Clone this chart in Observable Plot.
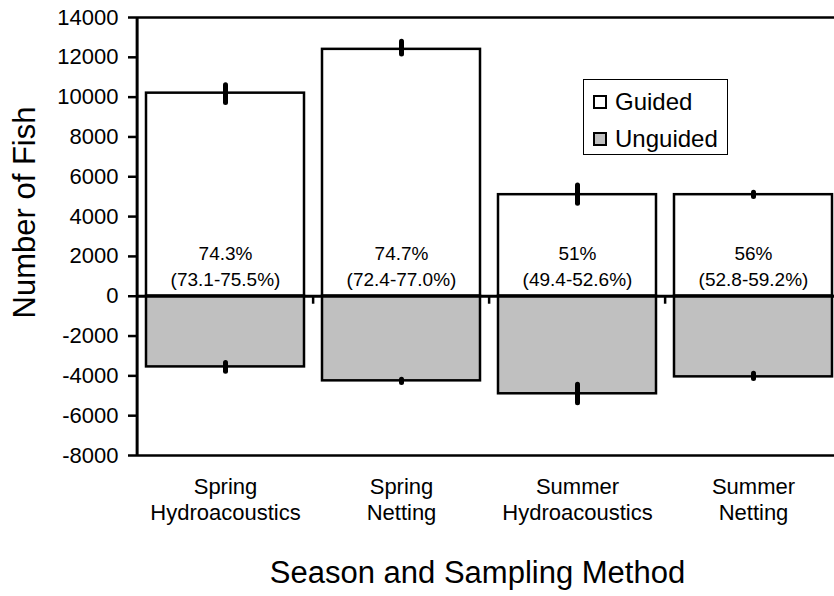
<!DOCTYPE html>
<html>
<head>
<meta charset="utf-8">
<script src="https://cdn.jsdelivr.net/npm/d3@7"></script>
<script src="https://cdn.jsdelivr.net/npm/@observablehq/plot@0.6"></script>
<style>
  body { margin: 0; background: #fff; }
  #wrap { position: relative; width: 834px; height: 596px; overflow: hidden; font-family: "Liberation Sans", Arial, sans-serif; }
  #legend { position: absolute; left: 583px; top: 79px; width: 145px; height: 76px; box-sizing: border-box; border: 1px solid #000; background: #fff; font-size: 24px; }
  .item { position: absolute; left: 9px; height: 30px; display: flex; align-items: center; white-space: nowrap; }
  .sw { width: 14px; height: 14px; border: 2.5px solid #000; box-sizing: border-box; margin-right: 8px; }
</style>
</head>
<body>
<div id="wrap">
  <div id="chart"></div>
  <div id="legend">
    <div class="item" style="top:7px"><div class="sw" style="background:#fff"></div><span>Guided</span></div>
    <div class="item" style="top:44px"><div class="sw" style="background:#c0c0c0"></div><span>Unguided</span></div>
  </div>
</div>
<script>
// ---- data ----
const categories = ["Spring Hydroacoustics", "Spring Netting", "Summer Hydroacoustics", "Summer Netting"];
const guided = [10200, 12400, 5100, 5100];
const unguided = [-3550, -4250, -4900, -4050];
const guidedLow = [9700, 12140, 4640, 4980];
const guidedHigh = [10600, 12780, 5560, 5200];
const unguidedLow = [-3790, -4360, -5370, -4160];
const unguidedHigh = [-3350, -4190, -4450, -3890];
const pctLabels = ["74.3%", "74.7%", "51%", "56%"];
const ciLabels = ["(73.1-75.5%)", "(72.4-77.0%)", "(49.4-52.6%)", "(52.8-59.2%)"];
const yTicks = [-8000, -6000, -4000, -2000, 0, 2000, 4000, 6000, 8000, 10000, 12000, 14000];
const xTitle = "Season and Sampling Method";
const yTitle = "Number of Fish";

// ---- layout ----
const xRange = [136, 843];
const step = (xRange[1] - xRange[0]) / categories.length;
const font = "Liberation Sans, Arial, sans-serif";

const chart = Plot.plot({
  width: 834,
  height: 596,
  marginTop: 17,
  marginBottom: 141,
  marginLeft: 136,
  marginRight: 0,
  style: { fontFamily: font, color: "black", background: "white" },
  x: { domain: categories, range: xRange, paddingInner: 0.1, paddingOuter: 0.05, axis: null },
  y: { domain: [yTicks[0], yTicks[yTicks.length - 1]], axis: null },
  marks: [
    Plot.barY(categories, { x: d => d, y1: 0, y2: (d, i) => guided[i], fill: "white", stroke: "black", strokeWidth: 2.5 }),
    Plot.barY(categories, { x: d => d, y1: 0, y2: (d, i) => unguided[i], fill: "#c0c0c0", stroke: "black", strokeWidth: 2.5 }),
    Plot.ruleX(categories, { x: d => d, y1: (d, i) => guidedLow[i], y2: (d, i) => guidedHigh[i], strokeWidth: 5, strokeLinecap: "round" }),
    Plot.ruleX(categories, { x: d => d, y1: (d, i) => unguidedLow[i], y2: (d, i) => unguidedHigh[i], strokeWidth: 5, strokeLinecap: "round" }),
    Plot.ruleY([yTicks[yTicks.length - 1], yTicks[0]], { strokeWidth: 2.5 }),
    Plot.ruleY([0], { strokeWidth: 3 }),
    // category separator ticks below the zero line
    Plot.ruleX(categories.slice(1), { x: d => d, y1: 0, y2: 0, dx: -step / 2, insetBottom: -8, strokeWidth: 2.5 }),
    // y axis line
    Plot.ruleX(categories.slice(0, 1), { x: d => d, y1: yTicks[0], y2: yTicks[yTicks.length - 1], dx: -step / 2, strokeWidth: 3 }),
    Plot.axisY({ ticks: yTicks, tickSize: 8, tickPadding: 10, fontSize: 22, strokeWidth: 2.5, tickFormat: d => String(d) }),
    // percent labels
    Plot.text(categories, { x: d => d, y: () => 0, text: (d, i) => pctLabels[i], dy: -42, fontSize: 19 }),
    Plot.text(categories, { x: d => d, y: () => 0, text: (d, i) => ciLabels[i], dy: -16, fontSize: 19 }),
    // category labels
    Plot.text(categories, { x: d => d, frameAnchor: "bottom", text: d => d.replace(" ", "\n"), lineAnchor: "top", dy: 20, fontSize: 22, lineHeight: 1.18 }),
    // axis titles
    Plot.text([xTitle], { frameAnchor: "bottom", text: d => d, dy: 127, dx: -8, fontSize: 31 }),
    Plot.text([yTitle], { frameAnchor: "top-left", text: d => d, dx: -111, dy: 195, rotate: -90, textAnchor: "middle", lineAnchor: "middle", fontSize: 31 })
  ]
});
document.getElementById("chart").appendChild(chart);
</script>
</body>
</html>
